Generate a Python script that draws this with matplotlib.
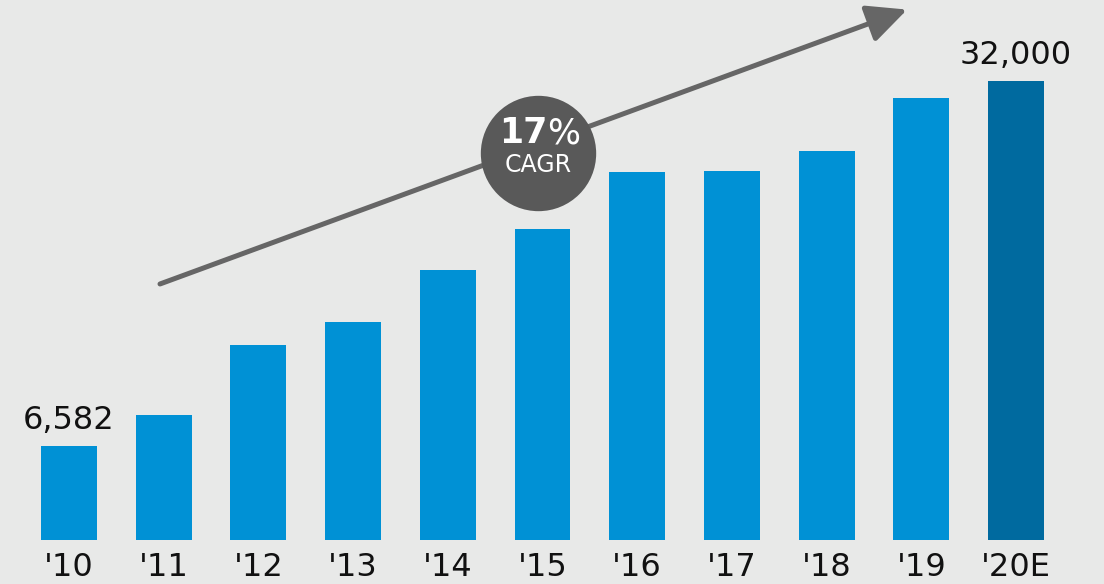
import matplotlib.pyplot as plt
from matplotlib.patches import FancyArrowPatch

years = ["'10", "'11", "'12", "'13", "'14", "'15", "'16", "'17", "'18", "'19", "'20E"]
values = [6582, 8700, 13600, 15200, 18800, 21700, 25650, 25730, 27120, 30800, 32000]
colors = ['#0091d5'] * 10 + ['#006a9f']
labels = {0: '6,582', 10: '32,000'}

bg = '#e8e9e8'
fig = plt.figure(figsize=(11.04, 5.84), dpi=100, facecolor=bg)
ax = fig.add_axes([0, 0, 1, 1], facecolor=bg)
ax.set_xlim(-0.7286, 10.929)
ax.set_ylim(-3068, 37649)
ax.axis('off')

x = list(range(len(years)))
ax.bar(x, values, width=0.59, color=colors, zorder=2)

for i, lab in enumerate(years):
    ax.text(i, -1950, lab, ha='center', va='center', fontsize=23, color='#111111')
for i, lab in labels.items():
    ax.text(i, values[i] + 1750, lab, ha='center', va='center', fontsize=23, color='#111111')

# CAGR arrow
arr = FancyArrowPatch((0.961, 17850), (8.85, 36980),
                      arrowstyle='-|>,head_length=0.42,head_width=0.2', mutation_scale=58,
                      color='#666666', lw=3.6, shrinkA=0, shrinkB=0, zorder=3)
ax.add_patch(arr)
ax.scatter([4.952], [26980], s=6900, color='#595959', zorder=4, linewidths=0)
ax.text(5.05, 28350, '17', ha='right', va='center', fontsize=25, fontweight='bold',
        color='white', zorder=5)
ax.text(5.05, 28350, '%', ha='left', va='center', fontsize=25, color='white', zorder=5)
ax.text(4.952, 26150, 'CAGR', ha='center', va='center', fontsize=17, color='white', zorder=5)

fig.savefig('out.png', dpi=100, facecolor=bg)
